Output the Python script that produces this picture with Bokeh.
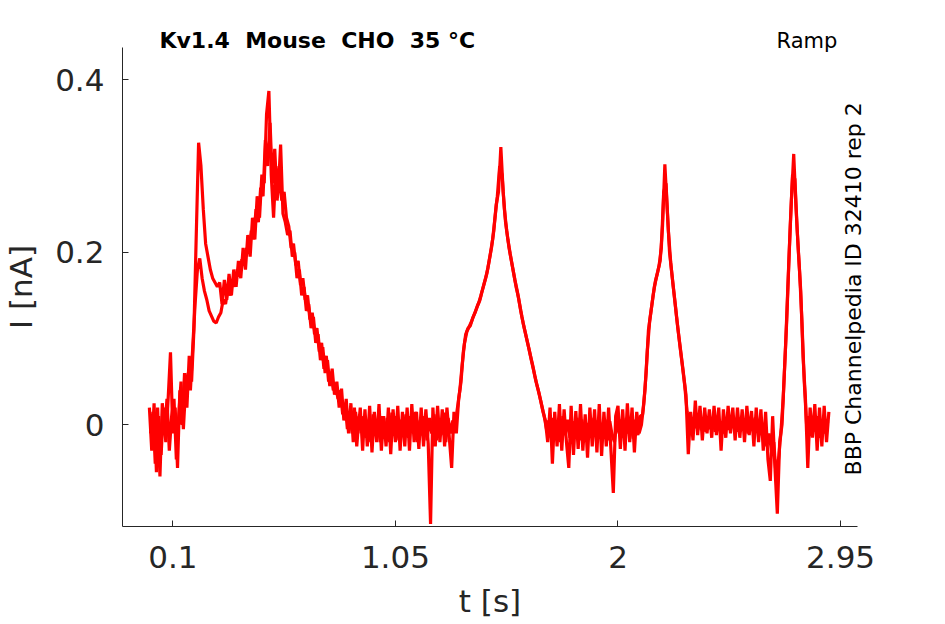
import numpy as np
from bokeh.plotting import figure
from bokeh.models import Range1d, FixedTicker, Label
from bokeh.embed import file_html
from bokeh.resources import INLINE

DT = 0.01

# first sweep, from t = 0
T0_A = 0.0
trace_a = [
    0.02, -0.03, 0.025, -0.055, 0.01, -0.035, 0.02, -0.02, 0.03, 0.084,
    -0.01, 0.02, -0.05, 0.04, 0.0, 0.06, 0.02, 0.08, 0.05, 0.11,
    0.22, 0.327, 0.30, 0.25, 0.21, 0.195, 0.18, 0.17, 0.165, 0.16,
    0.165, 0.14, 0.168, 0.145, 0.175, 0.15, 0.18, 0.16, 0.19, 0.17,
    0.205, 0.18, 0.22, 0.195, 0.24, 0.215, 0.265, 0.24, 0.29, 0.28,
    0.36, 0.387, 0.29, 0.24, 0.3, 0.27, 0.325, 0.245, 0.235, 0.22,
    0.225, 0.195, 0.2, 0.17, 0.18, 0.15, 0.16, 0.132, 0.14, 0.112,
    0.125, 0.095, 0.105, 0.075, 0.09, 0.06, 0.075, 0.045, 0.065, 0.035,
    0.05, 0.02, 0.042, 0.005, 0.03, -0.01, 0.025, -0.02, 0.015, -0.01,
    0.02, -0.03, 0.018, -0.025, 0.022, -0.032, 0.015, -0.02, 0.024, -0.03,
    0.01, -0.025, 0.02, -0.034, 0.018, -0.02, 0.022, -0.03, 0.015, -0.025,
    0.02, -0.03, 0.024, -0.02, 0.015, -0.028, 0.02, -0.025, 0.018, -0.022,
    -0.115, 0.02, -0.025, 0.022, -0.02, 0.018, -0.025, 0.02, -0.015, -0.05,
    0.015, -0.01, 0.03, 0.05, 0.085, 0.105, 0.112, 0.115, 0.124, 0.13,
    0.138, 0.144, 0.155, 0.165, 0.175, 0.19, 0.205, 0.225, 0.255, 0.27,
    0.322, 0.27, 0.235, 0.215, 0.198, 0.183, 0.168, 0.155, 0.14, 0.125,
    0.112, 0.1, 0.088, 0.075, 0.063, 0.05, 0.04, 0.028, 0.015, 0.005,
    -0.02, 0.02, -0.045, 0.015, -0.025, 0.024, -0.03, 0.018, -0.02, -0.05,
    0.022, -0.035, 0.016, -0.028, 0.024, -0.03, 0.012, -0.038, 0.02, -0.025,
    0.018, -0.032, 0.024, -0.036, 0.015, -0.025, 0.02, -0.03, -0.079, 0.01,
    0.022, -0.028, 0.018, -0.03, 0.025, -0.02, 0.02, -0.032, 0.015, -0.01,
    0.0, 0.024, 0.06, 0.11, 0.13, 0.15, 0.167, 0.178, 0.19, 0.23,
    0.302, 0.25, 0.2, 0.175, 0.15, 0.125, 0.102, 0.08, 0.058, 0.035,
    -0.034, 0.015, -0.018, 0.028, -0.012, 0.022, -0.018, 0.02, -0.01, 0.018,
    -0.015, 0.022, -0.012, 0.02, -0.03, 0.018, -0.015, 0.022, -0.01, 0.02,
    -0.018, 0.02, -0.015, 0.018, -0.02, 0.022, -0.012, 0.016, -0.025, 0.02,
    -0.02, 0.018, -0.03, 0.015, -0.04, -0.065, 0.01, -0.05, -0.103, -0.02,
    0.0, 0.06, 0.12, 0.194, 0.26, 0.314, 0.25, 0.2, 0.155, 0.078,
    0.03, -0.05, 0.02, -0.015, 0.024, -0.03, 0.02, -0.025, 0.022, -0.02,
    0.015,
]

# second sweep, sampled half a step later (from t = 0.005)
T0_B = 0.005
trace_b = [
    -0.01, 0.015, -0.045, 0.02, -0.06, 0.025, -0.01, 0.03, -0.03, 0.01,
    0.03, -0.04, 0.01, 0.05, -0.005, 0.045, 0.06, 0.04, 0.09, 0.14,
    0.18, 0.193, 0.17, 0.155, 0.145, 0.132, 0.126, 0.12, 0.118, 0.125,
    0.13, 0.145, 0.14, 0.158, 0.15, 0.168, 0.16, 0.18, 0.172, 0.192,
    0.185, 0.205, 0.2, 0.225, 0.215, 0.25, 0.235, 0.275, 0.265, 0.33,
    0.30, 0.35, 0.28, 0.32, 0.26, 0.29, 0.26, 0.27, 0.24, 0.23,
    0.205, 0.21, 0.185, 0.19, 0.162, 0.17, 0.145, 0.15, 0.122, 0.13,
    0.105, 0.112, 0.085, 0.095, 0.065, 0.08, 0.05, 0.06, 0.04, 0.045,
    0.03, 0.04, 0.012, 0.025, -0.005, 0.015, -0.01, 0.02, -0.025, 0.01,
    -0.005, 0.01, -0.015, 0.005, -0.02, 0.012, -0.01, 0.005, -0.02, 0.01,
    -0.012, 0.008, -0.02, 0.014, -0.008, 0.01, -0.018, 0.006, -0.012, 0.012,
    -0.015, 0.01, -0.008, 0.015, -0.02, 0.005, -0.012, 0.01, -0.018, 0.008,
    -0.01, 0.012, -0.018, 0.006, -0.012, 0.014, -0.02, 0.008, -0.01, 0.005,
    0.0, 0.02, 0.04, 0.07, 0.095, 0.108, 0.114, 0.12, 0.127, 0.134,
    0.141, 0.15, 0.16, 0.17, 0.182, 0.198, 0.215, 0.24, 0.265, 0.3,
    0.29, 0.25, 0.225, 0.205, 0.19, 0.175, 0.16, 0.148, 0.132, 0.118,
    0.106, 0.094, 0.082, 0.07, 0.057, 0.045, 0.034, 0.022, 0.01, -0.005,
    0.005, -0.015, 0.008, -0.01, 0.005, -0.02, 0.01, -0.012, 0.006, -0.015,
    0.004, -0.012, 0.008, -0.018, 0.006, -0.01, 0.002, -0.015, 0.008, -0.012,
    0.005, -0.015, 0.002, -0.01, 0.006, -0.018, 0.004, -0.012, -0.02, 0.005,
    -0.01, 0.006, -0.015, 0.008, -0.01, 0.004, -0.016, 0.006, -0.012, 0.01,
    0.012, 0.04, 0.085, 0.12, 0.14, 0.16, 0.172, 0.184, 0.205, 0.27,
    0.28, 0.225, 0.188, 0.162, 0.138, 0.113, 0.09, 0.068, 0.045, 0.015,
    0.0, -0.005, 0.008, -0.004, 0.012, -0.006, 0.006, -0.008, 0.01, -0.005,
    0.006, -0.008, 0.01, -0.005, 0.004, -0.01, 0.008, -0.006, 0.01, -0.004,
    0.005, -0.008, 0.008, -0.006, 0.004, -0.01, 0.006, -0.004, 0.008, -0.008,
    0.004, -0.012, 0.002, -0.025, -0.01, -0.03, -0.02, -0.06, -0.04, -0.01,
    0.03, 0.09, 0.16, 0.23, 0.29, 0.285, 0.225, 0.178, 0.12, 0.05,
    0.0, 0.01, -0.012, 0.008, -0.008, 0.01, -0.015, 0.006, -0.01, 0.004,
]

x_ticks = [0.1, 1.05, 2, 2.95]
x_tick_labels = ["0.1", "1.05", "2", "2.95"]
y_ticks = [0, 0.2, 0.4]
y_tick_labels = ["0", "0.2", "0.4"]

title = "Kv1.4 \u00a0Mouse \u00a0CHO \u00a035 °C"
protocol = "Ramp"
source_note = "BBP Channelpedia ID 32410 rep 2"

FONT = "DejaVu Sans"
AXIS_COLOR = "#262626"

# visible extent of the axes
X_LO, X_HI = -0.115, 3.022
Y_LO, Y_HI = -0.1178, 0.4375

t_a = T0_A + DT * np.arange(len(trace_a))
t_b = T0_B + DT * np.arange(len(trace_b))

# the frame fills the whole canvas; the axes are pinned at the lower left corner
p = figure(width=945, height=624, output_backend="svg", toolbar_location=None,
           x_range=Range1d(-0.6355, 3.3978), y_range=Range1d(-0.2315, 0.4919),
           min_border=0, x_axis_label="t [s]", y_axis_label="I [nA]")

p.line(t_a, trace_a, line_color="#ff0000", line_width=3.2)
p.line(t_b, trace_b, line_color="#ff0000", line_width=3.2)

p.outline_line_color = None
p.xgrid.visible = False
p.ygrid.visible = False

p.xaxis.ticker = FixedTicker(ticks=x_ticks)
p.xaxis.major_label_overrides = dict(zip(x_ticks, x_tick_labels))
p.xaxis.bounds = (X_LO, X_HI)
p.xaxis.fixed_location = Y_LO
p.yaxis.ticker = FixedTicker(ticks=y_ticks)
p.yaxis.major_label_overrides = dict(zip(y_ticks, y_tick_labels))
p.yaxis.bounds = (Y_LO, Y_HI)
p.yaxis.fixed_location = X_LO

for ax in (p.xaxis[0], p.yaxis[0]):
    ax.axis_line_color = AXIS_COLOR
    ax.major_tick_line_color = AXIS_COLOR
    ax.major_tick_in = 6
    ax.major_tick_out = 0
    ax.minor_tick_line_color = None
    ax.major_label_text_font = FONT
    ax.major_label_text_font_size = "31px"
    ax.major_label_text_color = AXIS_COLOR
    ax.axis_label_text_font = FONT
    ax.axis_label_text_font_size = "31px"
    ax.axis_label_text_font_style = "normal"
    ax.axis_label_text_color = AXIS_COLOR

p.xaxis.major_label_standoff = 20
p.xaxis.axis_label_standoff = 11
p.yaxis.major_label_standoff = 18
p.yaxis.axis_label_standoff = 13

p.add_layout(Label(x=0.043, y=0.445, text=title, text_font=FONT,
                   text_font_style="bold", text_font_size="22px",
                   text_color="black", text_baseline="alphabetic"))
p.add_layout(Label(x=2.936, y=0.445, text=protocol, text_font=FONT,
                   text_font_size="21px", text_color="black",
                   text_align="right", text_baseline="alphabetic"))
p.add_layout(Label(x=3.007, y=-0.0587, text=source_note, text_font=FONT,
                   text_font_size="22px", text_color="black", angle=np.pi / 2,
                   text_align="left", text_baseline="alphabetic"))

open("out.html", "w").write(file_html(p, INLINE))
